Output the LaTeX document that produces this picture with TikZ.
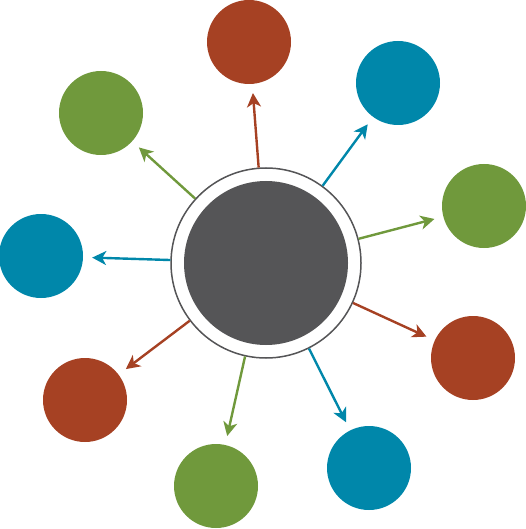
\documentclass[tikz,border=0pt]{standalone}
\usetikzlibrary{arrows.meta}
\definecolor{hubgray}{RGB}{85,85,87}
\definecolor{satred}{RGB}{166,65,35}
\definecolor{satblue}{RGB}{0,135,170}
\definecolor{satgreen}{RGB}{112,153,60}
\tikzset{
  sat/.style={circle, fill=#1, minimum size=84pt, inner sep=0pt},
  spoke/.style={draw=#1, line width=2.4pt, shorten >=9pt,
    -{Stealth[length=14pt,width=14pt,inset=4pt]}}
}
\begin{document}
\begin{tikzpicture}[x=1pt,y=-1pt]
  \useasboundingbox (0,0) rectangle (526,529);

  % hub
  \node[circle, draw=hubgray, line width=1.5pt, fill=white,
        minimum size=190pt, inner sep=0pt] (hub) at (266,263) {};
  \fill[hubgray] (hub.center) circle (82pt);

  % satellites and spokes
  \foreach \name/\x/\y/\col in {
      top/249/42/satred, tr/398/83/satblue, rt/484/206/satgreen,
      rr/473/358/satred, br/369/468/satblue, bt/216/486/satgreen,
      bl/85/400/satred, lf/41/256/satblue, tl/101/113/satgreen}
  {
    \node[sat=\col] (\name) at (\x,\y) {};
    \draw[spoke=\col] (hub) -- (\name);
  }
\end{tikzpicture}
\end{document}
